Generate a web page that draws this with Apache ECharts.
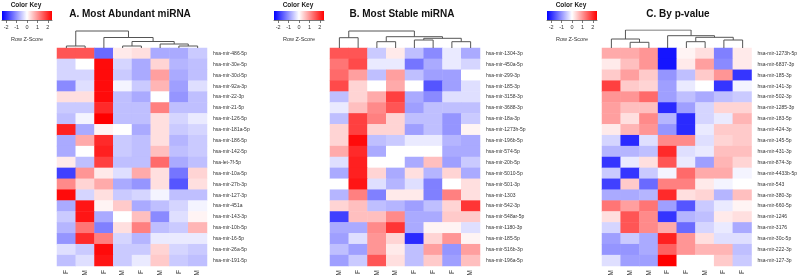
<!DOCTYPE html>
<html>
<head>
<meta charset="utf-8">
<script src="https://cdn.jsdelivr.net/npm/echarts@6/dist/echarts.min.js"></script>
<style>
  html, body { margin: 0; padding: 0; background: #fff; }
  #chart { width: 800px; height: 279px; }
</style>
</head>
<body>
<div id="chart"></div>
<script>
// 数据：三个热图（行 Z 分数），列为样本性别
var colsA = ['F', 'M', 'F', 'M', 'F', 'M', 'F', 'M'];
var colsB = ['M', 'F', 'M', 'M', 'F', 'F', 'F', 'M'];
var colsC = ['M', 'M', 'M', 'F', 'F', 'M', 'F', 'F'];

var rowsA = ['hsa-mir-486-5p', 'hsa-mir-30e-5p', 'hsa-mir-30d-5p', 'hsa-mir-92a-3p', 'hsa-mir-22-3p',
  'hsa-mir-21-5p', 'hsa-mir-126-5p', 'hsa-mir-181a-5p', 'hsa-mir-186-5p', 'hsa-mir-142-5p',
  'hsa-let-7f-5p', 'hsa-mir-10a-5p', 'hsa-mir-27b-3p', 'hsa-mir-127-3p', 'hsa-mir-451a',
  'hsa-mir-143-3p', 'hsa-mir-10b-5p', 'hsa-mir-16-5p', 'hsa-mir-26a-5p', 'hsa-mir-191-5p'];
var rowsB = ['hsa-mir-1304-3p', 'hsa-mir-450a-5p', 'hsa-mir-299-3p', 'hsa-mir-185-3p', 'hsa-mir-3158-3p',
  'hsa-mir-3688-3p', 'hsa-mir-18a-3p', 'hsa-mir-1273h-5p', 'hsa-mir-196b-5p', 'hsa-mir-574-5p',
  'hsa-mir-20b-5p', 'hsa-mir-5010-5p', 'hsa-mir-501-3p', 'hsa-mir-1303', 'hsa-mir-542-3p',
  'hsa-mir-548ar-5p', 'hsa-mir-1180-3p', 'hsa-mir-185-5p', 'hsa-mir-516b-3p', 'hsa-mir-196a-5p'];
var rowsC = ['hsa-mir-1273h-5p', 'hsa-mir-6837-3p', 'hsa-mir-185-3p', 'hsa-mir-141-3p', 'hsa-mir-502-3p',
  'hsa-mir-1285-3p', 'hsa-mir-183-5p', 'hsa-mir-424-3p', 'hsa-mir-145-5p', 'hsa-mir-431-3p',
  'hsa-mir-874-3p', 'hsa-mir-4433b-5p', 'hsa-mir-543', 'hsa-mir-380-3p', 'hsa-mir-660-5p',
  'hsa-mir-1246', 'hsa-mir-3176', 'hsa-mir-30c-5p', 'hsa-mir-222-3p', 'hsa-mir-127-3p'];

var zA = [
  [1.6, 1.6, -1.4, 0.2, 0.3, -0.8, -0.8, -0.5],
  [-0.4, 0, 2.3, -0.4, -0.8, 0.4, -0.7, -0.6],
  [-0.4, -0.4, 2.3, -0.5, -0.8, 0.9, -0.8, -0.6],
  [-1.1, -0.3, 2.3, -0.1, -0.5, 0.7, -0.9, -0.3],
  [0.3, 0.3, 2.3, -0.6, -0.8, 0, -1.0, -0.6],
  [-0.5, -0.5, 2.0, -0.6, -0.6, 1.2, -0.6, -0.6],
  [-0.6, -0.1, 2.4, -0.6, -0.6, 0.3, -0.4, -0.2],
  [2.1, -0.8, 0.1, 0, -0.8, 0.3, -0.5, -0.4],
  [-0.8, 0.8, 2.0, -0.5, -0.6, 0.3, -0.7, -0.5],
  [-0.8, 0, 2.1, -0.5, -0.6, 0.6, -0.6, -0.5],
  [0.2, -0.6, 1.8, -0.6, -0.6, 1.4, -0.8, -0.6],
  [-1.8, 1.0, 0.2, -0.3, 0.8, 0.3, -1.3, 0.4],
  [1.1, 0.4, 0.8, -0.8, -1.0, 0.3, -1.6, 0.3],
  [2.3, -0.4, 0.3, -0.5, -0.4, -0.1, -0.6, -0.6],
  [-0.8, 2.2, 0.1, 0.5, -0.8, -0.6, -0.4, -0.1],
  [-0.5, 2.2, -0.8, 0, 0.6, -1.1, -0.3, 0.1],
  [-0.7, 1.3, -1.2, 0.3, 1.2, -0.6, -0.5, 0.7],
  [-1.0, 2.0, 1.2, -0.4, -0.7, -0.2, -0.2, -0.2],
  [-0.3, -0.5, 2.3, -0.5, -0.5, 0.4, -0.4, -0.5],
  [-0.6, -0.3, 2.2, -0.5, -0.2, 0.5, -0.5, -0.6]
];
var zB = [
  [1.6, 1.6, -0.5, 0.2, -0.6, -1.1, -0.2, -0.8],
  [1.3, 1.7, -0.2, -0.2, -1.3, -0.8, -0.2, -0.4],
  [1.4, 0.9, -0.6, 0.9, -0.6, -0.9, -0.9, 0],
  [1.7, 0.4, 0, 0.8, 0, -1.6, -0.9, -0.3],
  [-0.6, 0.4, 0.8, 1.8, -0.8, -1.1, -0.3, -0.3],
  [-0.2, 0.6, 1.1, 1.6, -0.9, -0.6, -0.6, -0.6],
  [-0.6, 1.8, 1.2, 0.4, -0.6, -0.6, -1.0, -0.5],
  [0.4, 1.8, 0.4, 0.4, -0.9, -0.6, -1.0, 0.1],
  [0.4, 2.3, -0.6, -0.5, -0.2, -0.2, -0.7, -0.8],
  [0.8, 2.0, -0.8, 0, 0, 0, -0.8, -0.8],
  [-0.3, 2.1, 0, 0, -0.8, 0.6, -0.9, -0.5],
  [-0.8, 2.1, 0.4, -0.8, 0.3, -0.7, 0.4, -0.8],
  [0, 2.2, -0.3, -0.7, -0.3, -1.2, 0, 0.3],
  [-0.7, 1.2, -1.2, 0.2, 0.2, -1.2, 1.2, 0.3],
  [0.4, 0.6, -0.6, -0.7, -0.9, -0.6, 0.4, 1.9],
  [-1.8, 0.6, 0.6, 1.1, -0.8, -0.8, 0.5, 0.5],
  [-0.8, -0.8, 1.1, 1.9, -0.8, 0.1, 0.1, -0.3],
  [-0.9, -0.3, 1.0, 0.4, -2.0, 0.4, 1.0, 0.1],
  [-0.6, -0.9, 1.0, 0.2, -0.6, 0.9, -1.0, 0.9],
  [-0.9, -0.5, 1.6, 0.3, -0.6, 0.5, -0.9, 0.6]
];
var zC = [
  [0.8, 0.8, 1.0, -2.2, 0.1, 0.3, -1.2, 0.2],
  [0.2, 0.6, 1.0, -2.2, 0.2, 0.9, -1.1, 0.2],
  [0.5, 0.9, 0.5, -1.0, -0.6, 0.5, 1.0, -1.9],
  [1.8, 0.5, 0.4, -0.9, -0.2, 0, -1.9, -0.1],
  [1.0, 1.0, 1.4, -0.9, -0.6, -0.8, -0.6, -0.5],
  [0.9, 0.6, 0.6, -2.0, -0.9, -0.4, 0.4, 0.4],
  [0.9, 0.3, 1.1, -0.7, -2.0, -0.4, -0.2, 0.7],
  [0.2, 0.7, 1.0, -1.0, -2.0, -0.2, 0.5, 0.5],
  [-0.4, -2.0, -0.3, 1.1, 1.1, -0.3, 0.4, 0.5],
  [-0.7, -0.7, -0.6, 2.0, -0.3, -0.2, 0.6, 0.6],
  [-1.9, -0.2, 0.3, 1.6, -0.2, -0.9, 0.7, 0.4],
  [-0.5, -1.9, -0.5, -0.1, 1.4, 0.8, 0.8, -0.1],
  [-1.8, 0.5, -1.4, 1.2, 1.2, 0.2, -0.1, 0],
  [-0.8, -0.8, -0.7, 2.0, 0.3, 0.4, -0.7, 0.6],
  [1.3, 0.9, 1.3, -0.9, -1.6, -0.5, -0.2, 0.1],
  [0.3, 1.6, 1.1, -1.9, -0.7, -0.6, 0.2, 0.3],
  [-0.4, 1.6, 1.1, 0.8, -1.4, -0.4, -0.2, -0.8],
  [-0.9, -0.5, -0.8, 2.1, 1.0, 0.3, -0.3, -0.3],
  [-1.0, -1.0, -0.8, 1.5, 1.0, 0.7, 0.7, -0.6],
  [-0.3, -0.9, -0.9, 2.4, 0, 0, 0.5, -0.5]
];

// 列聚类树：[合并高度, 左, 右]，叶子为列序号
var treeA = [17, [2, 0, 1], [10.5, 2, [6.5, [2, 3, 4], [4, 5, [2, 6, 7]]]]];
var treeB = [17, [10.3, 0, 1], [11.3, [6.3, 2, 3], [9.7, [8, 4, 5], [6.3, 6, 7]]]];
var treeC = [18, [9, 0, [5.7, 1, 2]], [12.3, 3, [10.7, [6.3, 4, 5], [8, 6, 7]]]];

var keyTicks = [-2, -1, 0, 1, 2];
var titles = ['A. Most Abundant miRNA', 'B. Most Stable miRNA', 'C. By p-value'];

var FONT = 'Liberation Sans';

function toCells(z) {
  var out = [];
  z.forEach(function (row, r) {
    row.forEach(function (v, c) { out.push([c, r, v]); });
  });
  return out;
}

function dendroSegs(tree) {
  var segs = [];
  function walk(n) {
    if (!Array.isArray(n)) return { x: n + 0.5, h: 0 };
    var a = walk(n[1]), b = walk(n[2]);
    segs.push({ coords: [[a.x, a.h], [a.x, n[0]], [b.x, n[0]], [b.x, b.h]] });
    return { x: (a.x + b.x) / 2, h: n[0] };
  }
  walk(tree);
  return segs;
}

var panels = [
  { cols: colsA, rows: rowsA, z: zA, tree: treeA, left: 57, keyLeft: 2, titleX: 130 },
  { cols: colsB, rows: rowsB, z: zB, tree: treeB, left: 330, keyLeft: 274, titleX: 402 },
  { cols: colsC, rows: rowsC, z: zC, tree: treeC, left: 602, keyLeft: 547, titleX: 678 }
];

var grid = [], xAxis = [], yAxis = [], series = [], visualMap = [], title = [];

panels.forEach(function (p, i) {
  // 热图
  grid.push({ left: p.left, width: 150, top: 48, height: 218 });
  xAxis.push({
    type: 'category', gridIndex: grid.length - 1,
    data: p.cols.map(function (c, k) { return String(k); }),
    axisLine: { show: false }, axisTick: { show: false },
    axisLabel: {
      rotate: 90, fontSize: 6.5, margin: 4, color: '#333', fontFamily: FONT,
      formatter: function (v, idx) { return p.cols[idx]; }
    }
  });
  yAxis.push({
    type: 'category', gridIndex: grid.length - 1, data: p.rows, inverse: true, position: 'right',
    axisLine: { show: false }, axisTick: { show: false },
    axisLabel: { fontSize: 5, margin: 6, color: '#333', fontFamily: FONT }
  });
  series.push({
    type: 'heatmap', xAxisIndex: xAxis.length - 1, yAxisIndex: yAxis.length - 1,
    data: toCells(p.z), itemStyle: { borderWidth: 0 }
  });
  visualMap.push({
    show: false, type: 'continuous', min: -2.4, max: 2.4, dimension: 2,
    seriesIndex: series.length - 1,
    inRange: { color: ['#0000ff', '#ffffff', '#ff0000'] }
  });

  // 列聚类树
  grid.push({ left: p.left, width: 150, top: 30, height: 18 });
  xAxis.push({ type: 'value', gridIndex: grid.length - 1, min: 0, max: 8, show: false });
  yAxis.push({ type: 'value', gridIndex: grid.length - 1, min: 0, max: 18, show: false });
  series.push({
    type: 'lines', coordinateSystem: 'cartesian2d', polyline: true,
    xAxisIndex: xAxis.length - 1, yAxisIndex: yAxis.length - 1,
    data: dendroSegs(p.tree),
    lineStyle: { color: '#555', width: 1, opacity: 1 }, silent: true
  });

  // 颜色图例
  grid.push({
    left: p.keyLeft, width: 50, top: 11, height: 9, show: true, borderWidth: 0,
    backgroundColor: new echarts.graphic.LinearGradient(0, 0, 1, 0, [
      { offset: 0, color: '#0000ff' }, { offset: 0.5, color: '#ffffff' }, { offset: 1, color: '#ff0000' }
    ])
  });
  xAxis.push({
    type: 'value', gridIndex: grid.length - 1, min: -2.4, max: 2.4,
    axisLine: { show: true, lineStyle: { color: '#555', width: 0.8 } },
    axisTick: { show: true, customValues: keyTicks, length: 3, lineStyle: { color: '#555', width: 0.8 } },
    axisLabel: { customValues: keyTicks, fontSize: 5.5, margin: 4, color: '#333', fontFamily: FONT },
    splitLine: { show: false },
    name: 'Row Z-Score', nameLocation: 'middle', nameGap: 16,
    nameTextStyle: { fontSize: 5.5, color: '#333', fontFamily: FONT }
  });
  yAxis.push({ type: 'value', gridIndex: grid.length - 1, min: 0, max: 1, show: false });

  title.push({
    text: titles[i], left: p.titleX, top: 9, textAlign: 'center', padding: 0,
    textStyle: { fontSize: 10, fontWeight: 'bold', color: '#111', fontFamily: FONT }
  });
  title.push({
    text: 'Color Key', left: p.keyLeft + 24, top: 2, textAlign: 'center', padding: 0,
    textStyle: { fontSize: 6.5, fontWeight: 'bold', color: '#222', fontFamily: FONT }
  });
});

var myChart = echarts.init(document.getElementById('chart'));
myChart.setOption({
  backgroundColor: '#fff',
  animation: false,
  title: title,
  grid: grid,
  xAxis: xAxis,
  yAxis: yAxis,
  visualMap: visualMap,
  series: series
});
</script>
</body>
</html>
